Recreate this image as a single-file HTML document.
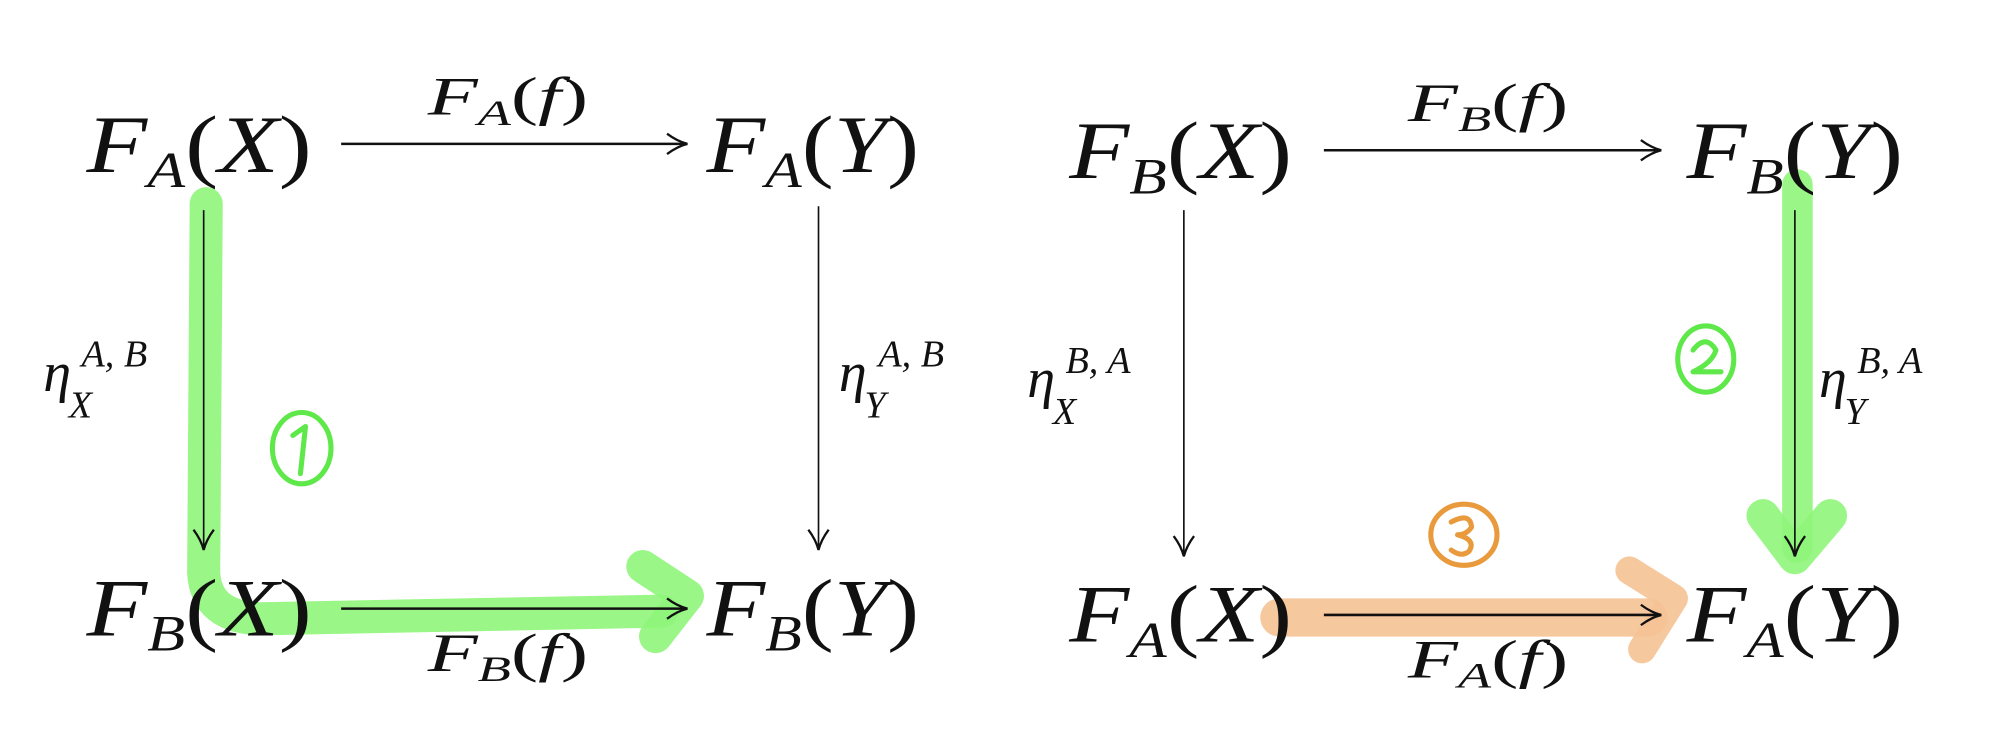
<!DOCTYPE html>
<html><head><meta charset="utf-8"><style>
html,body{margin:0;padding:0;background:#fff;}
svg{display:block;}
text{font-family:"Liberation Serif",serif;fill:#111;}
.it{font-style:italic;}
</style></head><body>
<svg width="1996" height="741" viewBox="0 0 1568 582" preserveAspectRatio="none" xmlns="http://www.w3.org/2000/svg">
<defs>
<marker id="ah" markerWidth="20" markerHeight="20" refX="18" refY="10" orient="auto" markerUnits="userSpaceOnUse">
<path d="M2,2 Q10,8 18,10 Q10,12 2,18" fill="none" stroke="#111" stroke-width="1.8"/>
</marker>
</defs>
<g stroke-linecap="round" stroke-linejoin="round" fill="none">
<path d="M162,160 L160,450 Q162,485 205,486 L520,480" stroke="#8ff57a" stroke-width="26" opacity="0.9"/>
<path d="M505,445 L540,468 L515,500" stroke="#8ff57a" stroke-width="26" opacity="0.9"/>
<path d="M1412,145 L1412,430" stroke="#8ff57a" stroke-width="24" opacity="0.9"/>
<path d="M1385,405 L1410,438 L1438,405" stroke="#8ff57a" stroke-width="26" opacity="0.9"/>
<path d="M1005,485 L1295,485" stroke="#f5c294" stroke-width="30" opacity="0.9"/>
<path d="M1280,448 L1315,470 L1290,510" stroke="#f5c294" stroke-width="22" opacity="0.9"/>
<ellipse cx="237" cy="352" rx="23" ry="28" stroke="#5fe84a" stroke-width="4"/>
<path d="M230,342 L240,335 L236,372" stroke="#5fe84a" stroke-width="4"/>
<ellipse cx="1340" cy="282" rx="22" ry="26" stroke="#5fe84a" stroke-width="4"/>
<path d="M1330,275 Q1340,262 1348,275 Q1345,285 1330,292 L1352,292" stroke="#5fe84a" stroke-width="4"/>
<ellipse cx="1150" cy="420" rx="26" ry="24" stroke="#e89a3c" stroke-width="4"/>
<path d="M1140,410 Q1155,402 1156,414 Q1152,420 1145,420 Q1160,424 1154,433 Q1148,438 1140,432" stroke="#e89a3c" stroke-width="4"/>
</g>
<g stroke="#111" stroke-width="2" fill="none" marker-end="url(#ah)">
<line x1="268" y1="113" x2="540" y2="113"/>
<line x1="1040" y1="118" x2="1305" y2="118"/>
<line x1="268" y1="478" x2="540" y2="478"/>
<line x1="1040" y1="483" x2="1305" y2="483"/>
<line x1="160" y1="165" x2="160" y2="432" stroke-width="1.3"/>
<line x1="643" y1="162" x2="643" y2="432" stroke-width="1.3"/>
<line x1="930" y1="165" x2="930" y2="437" stroke-width="1.3"/>
<line x1="1410" y1="165" x2="1410" y2="437" stroke-width="1.3"/>
</g>
<g font-size="64">
<text x="68" y="135" textLength="177" lengthAdjust="spacingAndGlyphs"><tspan class="it">F</tspan><tspan class="it" font-size="40" dy="12">A</tspan><tspan dy="-12">(</tspan><tspan class="it">X</tspan>)</text>
<text x="555" y="135" textLength="167" lengthAdjust="spacingAndGlyphs"><tspan class="it">F</tspan><tspan class="it" font-size="40" dy="12">A</tspan><tspan dy="-12">(</tspan><tspan class="it">Y</tspan>)</text>
<text x="840" y="140" textLength="175" lengthAdjust="spacingAndGlyphs"><tspan class="it">F</tspan><tspan class="it" font-size="40" dy="12">B</tspan><tspan dy="-12">(</tspan><tspan class="it">X</tspan>)</text>
<text x="1325" y="140" textLength="170" lengthAdjust="spacingAndGlyphs"><tspan class="it">F</tspan><tspan class="it" font-size="40" dy="12">B</tspan><tspan dy="-12">(</tspan><tspan class="it">Y</tspan>)</text>
<text x="68" y="499" textLength="177" lengthAdjust="spacingAndGlyphs"><tspan class="it">F</tspan><tspan class="it" font-size="40" dy="12">B</tspan><tspan dy="-12">(</tspan><tspan class="it">X</tspan>)</text>
<text x="555" y="499" textLength="167" lengthAdjust="spacingAndGlyphs"><tspan class="it">F</tspan><tspan class="it" font-size="40" dy="12">B</tspan><tspan dy="-12">(</tspan><tspan class="it">Y</tspan>)</text>
<text x="840" y="504" textLength="175" lengthAdjust="spacingAndGlyphs"><tspan class="it">F</tspan><tspan class="it" font-size="40" dy="12">A</tspan><tspan dy="-12">(</tspan><tspan class="it">X</tspan>)</text>
<text x="1325" y="504" textLength="170" lengthAdjust="spacingAndGlyphs"><tspan class="it">F</tspan><tspan class="it" font-size="40" dy="12">A</tspan><tspan dy="-12">(</tspan><tspan class="it">Y</tspan>)</text>
</g>
<g font-size="42">
<text x="336" y="90" textLength="126" lengthAdjust="spacingAndGlyphs"><tspan class="it">F</tspan><tspan class="it" font-size="28" dy="8">A</tspan><tspan dy="-8">(</tspan><tspan class="it">f</tspan>)</text>
<text x="1106" y="95" textLength="126" lengthAdjust="spacingAndGlyphs"><tspan class="it">F</tspan><tspan class="it" font-size="28" dy="8">B</tspan><tspan dy="-8">(</tspan><tspan class="it">f</tspan>)</text>
<text x="336" y="527" textLength="126" lengthAdjust="spacingAndGlyphs"><tspan class="it">F</tspan><tspan class="it" font-size="28" dy="8">B</tspan><tspan dy="-8">(</tspan><tspan class="it">f</tspan>)</text>
<text x="1106" y="532" textLength="126" lengthAdjust="spacingAndGlyphs"><tspan class="it">F</tspan><tspan class="it" font-size="28" dy="8">A</tspan><tspan dy="-8">(</tspan><tspan class="it">f</tspan>)</text>
</g>
<g font-size="44">
<text x="34" y="307" class="it">η</text><text x="54" y="328" font-size="30" class="it">X</text><text x="64" y="288" font-size="30" class="it">A, B</text>
<text x="659" y="307" class="it">η</text><text x="679" y="328" font-size="30" class="it">Y</text><text x="690" y="288" font-size="30" class="it">A, B</text>
<text x="807" y="312" class="it">η</text><text x="827" y="333" font-size="30" class="it">X</text><text x="837" y="293" font-size="30" class="it">B, A</text>
<text x="1429" y="312" class="it">η</text><text x="1449" y="333" font-size="30" class="it">Y</text><text x="1459" y="293" font-size="30" class="it">B, A</text>
</g>
</svg>
</body></html>
